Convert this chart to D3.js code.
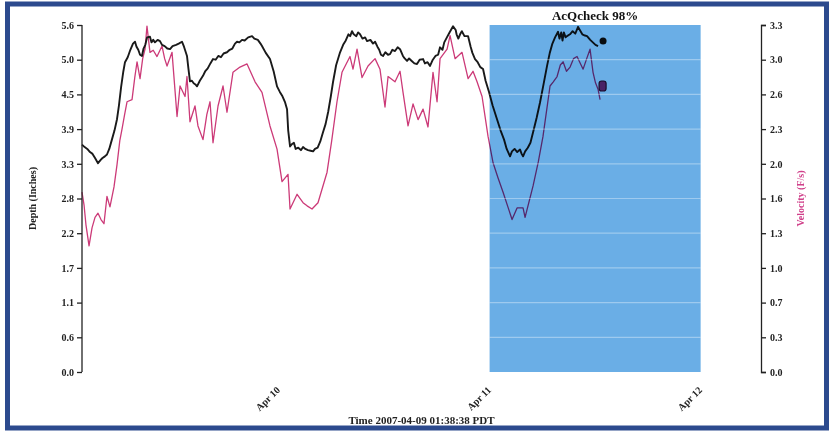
<!DOCTYPE html>
<html><head><meta charset="utf-8">
<script src="https://cdn.jsdelivr.net/npm/d3@7"></script>
<style>
html,body{margin:0;padding:0;background:#fff;}
svg{display:block;}
</style></head>
<body>
<svg id="chart" width="830" height="431"></svg>
<script>
// ---------- data ----------
const startTime = "2007-04-09T01:38:38Z";
const endTime = "2007-04-12T06:52:00Z";
const xTickDates = ["2007-04-10T00:00:00Z","2007-04-11T00:00:00Z","2007-04-12T00:00:00Z"];
const xTickLabels = ["Apr 10","Apr 11","Apr 12"];
const highlightStart = "2007-04-11T00:00:00Z";
const highlightEnd = "2007-04-12T00:00:00Z";
const highlightTitle = "AcQcheck 98%";
const depthTickLabels = ["0.0","0.6","1.1","1.7","2.2","2.8","3.3","3.9","4.5","5.0","5.6"];
const velocityTickLabels = ["0.0","0.3","0.7","1.0","1.3","1.6","2.0","2.3","2.6","3.0","3.3"];
const depthMax = 5.6;
const velocityMax = 3.3;

// hours since start, depth in inches
const depthHours = [0,0.3,0.6,0.91,1.2,1.5,1.82,2.1,2.3,2.6,2.84,3.1,3.4,3.7,3.98,4.2,4.45,4.7,4.89,5.2,5.5,5.8,6.03,6.2,6.4,6.6,6.82,7.0,7.2,7.4,7.73,7.9,8.1,8.3,8.6,8.87,9.1,9.4,9.7,10.01,10.3,10.7,11.0,11.37,11.6,11.94,12.1,12.28,12.5,12.7,12.9,13.08,13.4,13.76,14.0,14.3,14.6,14.9,15.2,15.5,15.8,16.1,16.49,16.8,17.1,17.4,17.63,17.9,18.2,18.5,18.9,19.34,19.6,20.0,20.3,20.47,20.9,21.38,21.8,22.18,22.5,22.8,23.1,23.32,23.45,23.66,23.9,24.1,24.3,24.6,24.9,25.14,25.4,25.7,26.0,26.28,26.5,26.8,27.1,27.41,27.7,28.0,28.3,28.55,28.9,29.35,29.7,30.0,30.3,30.5,30.71,30.9,31.2,31.4,31.62,31.9,32.2,32.42,32.8,33.1,33.33,33.6,33.8,34.0,34.24,34.5,34.8,35.03,35.3,35.6,35.9,36.17,36.5,36.7,36.97,37.2,37.5,37.8,38.1,38.4,38.79,39.0,39.3,39.58,39.9,40.2,40.5,40.72,41.0,41.2,41.5,41.8,42.2,42.5,42.6,42.8,43.0,43.2,43.5,43.91,44.2,44.4,44.7,45.0,45.3,45.61,45.9,46.29,46.7,47.2,47.6,48.0,48.3,48.68,48.9,49.2,49.5,49.82,50.0,50.16,50.4,50.7,51.0,51.3,51.7,52.09,52.5,52.89,53.2,53.5,53.8,54.14,54.3,54.5,54.65,54.8,55.0,55.16,55.5,55.8,56.1,56.42,56.7,56.9,57.2,57.44,57.8,58.1,58.4,58.69];
const depthValues = [3.67,3.63,3.6,3.55,3.52,3.45,3.37,3.42,3.45,3.48,3.51,3.6,3.75,3.9,4.08,4.3,4.6,4.85,5.0,5.08,5.2,5.3,5.33,5.25,5.2,5.12,5.1,5.22,5.28,5.4,5.41,5.32,5.36,5.32,5.36,5.34,5.28,5.26,5.22,5.21,5.26,5.28,5.3,5.33,5.25,5.1,4.9,4.69,4.7,4.66,4.64,4.61,4.7,4.78,4.85,4.9,4.98,5.05,5.04,5.1,5.08,5.14,5.16,5.2,5.22,5.3,5.33,5.32,5.36,5.35,5.4,5.42,5.38,5.36,5.3,5.26,5.15,5.05,4.85,4.61,4.52,4.45,4.35,4.24,3.9,3.64,3.68,3.7,3.6,3.62,3.58,3.63,3.6,3.58,3.57,3.56,3.6,3.62,3.72,3.87,4.0,4.2,4.45,4.68,4.95,5.16,5.28,5.35,5.45,5.42,5.5,5.45,5.42,5.48,5.45,5.38,5.4,5.34,5.36,5.3,5.33,5.25,5.2,5.12,5.1,5.16,5.12,5.13,5.2,5.18,5.24,5.21,5.1,5.06,5.02,5.06,5.02,4.98,4.97,5.04,5.05,4.98,5.0,4.94,5.04,5.1,5.12,5.24,5.2,5.32,5.4,5.48,5.58,5.52,5.45,5.38,5.45,5.5,5.42,5.42,5.25,5.15,5.05,5.0,4.92,4.89,4.7,4.52,4.3,4.08,3.9,3.75,3.6,3.48,3.56,3.6,3.55,3.59,3.52,3.48,3.56,3.62,3.7,3.87,4.1,4.35,4.65,4.94,5.15,5.3,5.4,5.49,5.38,5.48,5.35,5.48,5.4,5.42,5.45,5.5,5.46,5.57,5.5,5.45,5.43,5.42,5.36,5.32,5.28,5.26];
const depthEnd = {hour: 59.26, value: 5.34};

// hours since start, velocity in ft/s
const velocityHours = [0,0.23,0.45,0.8,1.14,1.48,1.82,2.16,2.5,2.84,3.18,3.64,3.98,4.3,4.55,4.85,5.12,5.69,6.0,6.26,6.6,6.9,7.17,7.39,7.73,8.1,8.53,9.1,9.4,9.67,10.24,10.81,11.15,11.72,11.94,12.28,12.85,13.19,13.76,14.2,14.56,14.9,15.47,16.04,16.49,17.17,17.97,18.77,19.68,20.47,21.38,22.18,22.75,23.43,23.66,24.46,25.14,25.6,26.16,26.84,27.87,28.4,29.0,29.57,30.48,30.82,31.28,31.85,32.53,33.33,33.89,34.46,34.81,35.6,36.17,36.51,37.08,37.65,38.22,38.79,39.35,39.92,40.38,40.72,41.52,41.86,42.43,43.22,43.91,44.47,44.93,45.5,46.18,46.75,47.3,47.89,48.4,48.91,49.48,50.16,50.39,51.3,51.9,52.43,53.23,53.6,54.03,54.4,54.71,55.1,55.51,55.9,56.3,56.99,57.4,57.78,58.12,58.4,58.69,58.92];
const velocityValues = [1.71,1.59,1.4,1.2,1.37,1.47,1.51,1.45,1.41,1.67,1.57,1.76,1.97,2.2,2.31,2.45,2.57,2.59,2.8,2.95,2.79,2.98,3.07,3.29,3.04,3.06,3.0,3.1,2.98,2.91,3.04,2.43,2.72,2.62,2.81,2.38,2.53,2.34,2.21,2.45,2.57,2.18,2.53,2.72,2.47,2.85,2.9,2.93,2.76,2.66,2.34,2.12,1.81,1.88,1.55,1.69,1.61,1.58,1.55,1.61,1.9,2.2,2.57,2.85,3.0,2.88,3.07,2.8,2.91,2.98,2.88,2.52,2.81,2.76,2.86,2.66,2.34,2.55,2.4,2.5,2.33,2.85,2.57,2.98,3.07,3.2,2.98,3.04,2.79,2.86,2.76,2.62,2.24,1.99,1.85,1.71,1.58,1.45,1.56,1.56,1.47,1.77,2.0,2.24,2.72,2.76,2.81,2.92,2.95,2.86,2.9,2.98,3.0,2.88,2.98,3.07,2.85,2.75,2.69,2.59];
const velocityEnd = {hour: 59.15, value: 2.72};

// ---------- drawing ----------
const svg = d3.select("#chart");
const W = 830, H = 431;
const mLeft = 82, mRight = 761, mTop = 25, mBottom = 372;
const serif = "'Liberation Serif','DejaVu Serif',serif";
const t0 = new Date(startTime);
const toDate = h => new Date(t0.getTime() + h * 3600e3);

const x = d3.scaleUtc().domain([t0, new Date(endTime)]).range([mLeft, mRight]);
const yD = d3.scaleLinear().domain([0, depthMax]).range([mBottom, mTop]);
const yV = d3.scaleLinear().domain([0, velocityMax]).range([mBottom, mTop]);

svg.append("rect").attr("width", W).attr("height", H).attr("fill", "#fff");

const depthData = depthHours.map((h, i) => ({t: toDate(h), v: depthValues[i]}));
const velData = velocityHours.map((h, i) => ({t: toDate(h), v: velocityValues[i]}));

svg.append("path").datum(velData)
  .attr("fill", "none").attr("stroke", "#cc3a78").attr("stroke-width", 1.3)
  .attr("stroke-linejoin", "round")
  .attr("d", d3.line().x(d => x(d.t)).y(d => yV(d.v)));

svg.append("path").datum(depthData)
  .attr("fill", "none").attr("stroke", "#1a1a1a").attr("stroke-width", 1.9)
  .attr("stroke-linejoin", "round")
  .attr("d", d3.line().x(d => x(d.t)).y(d => yD(d.v)));

svg.append("circle").attr("cx", x(toDate(depthEnd.hour))).attr("cy", yD(depthEnd.value))
  .attr("r", 3.5).attr("fill", "#111");
svg.append("rect")
  .attr("x", x(toDate(velocityEnd.hour)) - 3).attr("y", yV(velocityEnd.value) - 5)
  .attr("width", 7).attr("height", 10).attr("rx", 2.5)
  .attr("fill", "#b03070").attr("stroke", "#3a1030").attr("stroke-width", 1.2);

// highlight region (multiply so lines tint)
const hx0 = x(new Date(highlightStart)), hx1 = x(new Date(highlightEnd));
svg.append("rect").attr("x", hx0).attr("y", mTop).attr("width", hx1 - hx0).attr("height", mBottom - mTop)
  .attr("fill", "#6aaee6").style("mix-blend-mode", "multiply");

// gridlines (visible only on blue)
const depthTickVals = depthTickLabels.map((_, i) => i * depthMax / (depthTickLabels.length - 1));
svg.append("g").selectAll("line").data(depthTickVals.slice(1, -1)).join("line")
  .attr("x1", hx0).attr("x2", hx1).attr("y1", d => yD(d)).attr("y2", d => yD(d))
  .attr("stroke", "#ffffff").attr("stroke-opacity", 0.35).attr("stroke-width", 1.2);

svg.append("text").attr("x", (hx0 + hx1) / 2).attr("y", 20).attr("text-anchor", "middle")
  .attr("font-family", serif).attr("font-weight", "bold").attr("font-size", 13)
  .attr("fill", "#111").text(highlightTitle);

// left axis
const gL = svg.append("g").attr("transform", `translate(${mLeft},0)`)
  .call(d3.axisLeft(yD).tickValues(depthTickVals).tickFormat((d, i) => depthTickLabels[i]).tickSize(5).tickPadding(3));
// right axis
const velTickVals = velocityTickLabels.map((_, i) => i * velocityMax / (velocityTickLabels.length - 1));
const gR = svg.append("g").attr("transform", `translate(${mRight},0)`)
  .call(d3.axisRight(yV).tickValues(velTickVals).tickFormat((d, i) => velocityTickLabels[i]).tickSize(5).tickPadding(4));
[gL, gR].forEach(g => {
  g.selectAll("text").attr("font-family", serif).attr("font-weight", "bold").attr("font-size", 10).attr("fill", "#222");
  g.selectAll("path,line").attr("stroke", "#222").attr("stroke-width", 1.3);
});
gL.select(".domain").attr("d", `M0,${mTop}V${mBottom}`);

// bottom axis
const gB = svg.append("g").attr("transform", `translate(0,${mBottom + 8})`)
  .call(d3.axisBottom(x).tickValues(xTickDates.map(d => new Date(d))).tickFormat((d, i) => xTickLabels[i]).tickSize(0));
gB.select(".domain").remove();
gB.selectAll("text").attr("font-family", serif).attr("font-weight", "bold").attr("font-size", 10)
  .attr("fill", "#222").attr("text-anchor", "end").attr("dy", "0.35em")
  .attr("transform", "translate(-3,6) rotate(-45)");

// axis titles
svg.append("text").attr("transform", `translate(36,${(mTop + mBottom) / 2}) rotate(-90)`)
  .attr("text-anchor", "middle").attr("font-family", serif).attr("font-weight", "bold")
  .attr("font-size", 10).attr("fill", "#222").text("Depth (Inches)");
svg.append("text").attr("transform", `translate(804,${(mTop + mBottom) / 2}) rotate(-90)`)
  .attr("text-anchor", "middle").attr("font-family", serif).attr("font-weight", "bold")
  .attr("font-size", 10).attr("fill", "#d0408a").text("Velocity (F/s)");

// frame
svg.append("rect").attr("x", 7.5).attr("y", 4).attr("width", 819).attr("height", 424)
  .attr("fill", "none").attr("stroke", "#2c4a8e").attr("stroke-width", 5);

svg.append("text").attr("x", (mLeft + mRight) / 2).attr("y", 424).attr("text-anchor", "middle")
  .attr("font-family", serif).attr("font-weight", "bold").attr("font-size", 11)
  .attr("fill", "#222").text("Time 2007-04-09 01:38:38 PDT");
</script>
</body></html>
